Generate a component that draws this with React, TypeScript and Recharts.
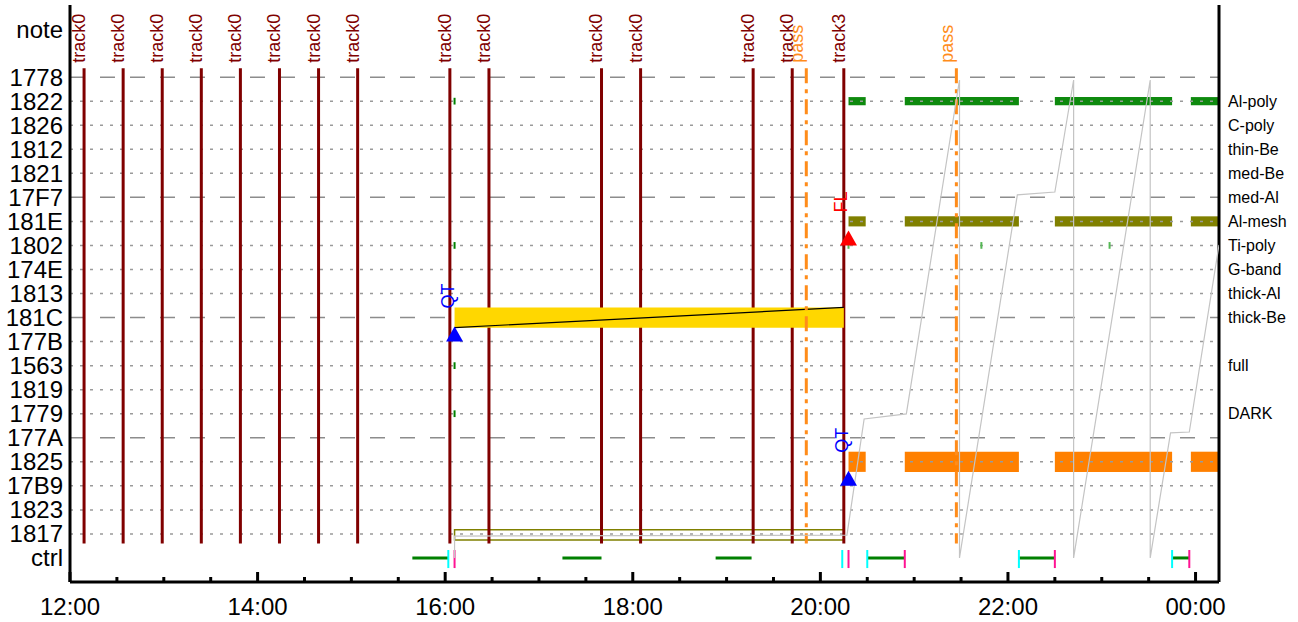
import React from 'react'
import { ComposedChart, XAxis, YAxis, ReferenceLine, ReferenceArea, Scatter } from 'recharts'

const FONT = '"Liberation Sans", Arial, Helvetica, sans-serif'

// left axis rows, top to bottom ('note' and 'ctrl' are extra rows)
const yTickRows = [-2, 0, 1, 2, 3, 4, 5, 6, 7, 8, 9, 10, 11, 12, 13, 14, 15, 16, 17, 18, 19, 20]
const yTickLabels = ['note', '1778', '1822', '1826', '1812', '1821', '17F7', '181E', '1802', '174E', '1813',
  '181C', '177B', '1563', '1819', '1779', '177A', '1825', '17B9', '1823', '1817', 'ctrl']

// right side names, by row
const filterRows = [1, 2, 3, 4, 5, 6, 7, 8, 9, 10, 12, 14]
const filterLabels = ['Al-poly', 'C-poly', 'thin-Be', 'med-Be', 'med-Al', 'Al-mesh', 'Ti-poly', 'G-band',
  'thick-Al', 'thick-Be', 'full', 'DARK']

const gridRows = [0, 1, 2, 3, 4, 5, 6, 7, 8, 9, 10, 11, 12, 13, 14, 15, 16, 17, 18, 19]
const dashedRows = [0, 5, 10, 15]

const xTicks = [12, 12.5, 13, 13.5, 14, 14.5, 15, 15.5, 16, 16.5, 17, 17.5, 18, 18.5, 19, 19.5, 20, 20.5,
  21, 21.5, 22, 22.5, 23, 23.5, 24]
const xLabels: Record<number, string> = { 12: '12:00', 14: '14:00', 16: '16:00', 18: '18:00', 20: '20:00', 22: '22:00', 24: '00:00' }

const hm = (s: string) => {
  const [h, m] = s.split(':').map(Number)
  return h + m / 60
}

const tracks = [
  { t: '12:09', name: 'track0' }, { t: '12:34', name: 'track0' }, { t: '12:59', name: 'track0' },
  { t: '13:24', name: 'track0' }, { t: '13:49', name: 'track0' }, { t: '14:14', name: 'track0' },
  { t: '14:39', name: 'track0' }, { t: '15:04', name: 'track0' }, { t: '16:03', name: 'track0' },
  { t: '16:28', name: 'track0' }, { t: '17:40', name: 'track0' }, { t: '18:05', name: 'track0' },
  { t: '19:17', name: 'track0' }, { t: '19:42', name: 'track0' }, { t: '20:15', name: 'track3' },
]
const passes = ['19:51', '21:27']

// exposure windows (shared by Al-poly, Al-mesh and 1825 rows)
const windows = [['20:18', '20:29'], ['20:54', '22:07'], ['22:30', '23:45'], ['23:57', '24:15']]

const yellowBar = { from: '16:06', to: '20:15', row: 10 }
const outlineBar = { from: '16:06', to: '20:15', row: 19 }

const ctrlSegments = [['15:39', '16:02'], ['17:15', '17:40'], ['18:53', '19:16'], ['20:30', '20:54'], ['22:07', '22:30'], ['23:45', '23:56']]
const cyanMarks = ['16:02', '20:14', '20:30', '22:07', '23:45']
const pinkMarks = ['16:06', '20:18', '20:54', '22:30', '23:56']

const smallTicks = [
  { t: '16:06', row: 1, light: false }, { t: '16:06', row: 7, light: false },
  { t: '16:06', row: 12, light: false }, { t: '16:06', row: 14, light: false },
  { t: '20:18', row: 7, light: true }, { t: '21:43', row: 7, light: true }, { t: '23:05', row: 7, light: true },
]

const sawtooth = [
  ['16:06', 20.0], ['16:06', 19.09], ['20:17', 19.05], ['20:28', 14.22], ['20:55', 14.01], ['21:29', 0.12],
  ['21:29', 20.0], ['22:06', 4.9], ['22:30', 4.78], ['22:42', 0.12], ['22:42', 20.0], ['23:31', 0.12],
  ['23:31', 20.0], ['23:44', 14.8], ['23:56', 14.76], ['24:15', 6.98],
] as const

const markers = [
  { t: '16:06', row: 11, color: '#0000ff', label: 'QT' },
  { t: '20:18', row: 7, color: '#ff0000', label: 'FL' },
  { t: '20:18', row: 17, color: '#0000ff', label: 'QT' },
]

const LINE_TOP = -0.37
const LINE_BOTTOM = 19.4

const trackLabelPts = tracks.map(d => ({ x: hm(d.t), y: -0.6, name: d.name }))
const passLabelPts = passes.map(t => ({ x: hm(t), y: -0.6, name: 'pass' }))
const markerPts = markers.map(m => ({ x: hm(m.t), y: m.row, color: m.color, label: m.label }))
const sawPts = sawtooth.map(([t, v]) => ({ x: hm(t), y: v }))

const BottomTick = (props: any) => {
  const { x, y, payload } = props
  const lab = xLabels[payload.value]
  return (
    <g>
      <line x1={x} x2={x} y1={y} y2={y - (lab ? 10 : 5)} stroke="#000" strokeWidth={3} />
      {lab && (
        <text x={x} y={y + 33} textAnchor="middle" fontSize={24} fill="#000" fontFamily={FONT}>{lab}</text>
      )}
    </g>
  )
}

const TopTick = (props: any) => {
  const { x, y, payload } = props
  const major = !!xLabels[payload.value]
  return <line x1={x} x2={x} y1={y} y2={y + (major ? 11 : 7)} stroke="#000" strokeWidth={3} />
}

const rotText = (x: number, y: number, txt: string, color: string) => (
  <text x={x} y={y} transform={`rotate(-90 ${x} ${y})`} fill={color} fontSize={18} fontFamily={FONT}>{txt}</text>
)

export default function App() {
  return (
    <div style={{ position: 'absolute', left: 0, top: 0, width: 1298, height: 622, background: '#fff', fontFamily: FONT }}>
      <ComposedChart width={1298} height={622} margin={{ top: 5, right: 0, bottom: 0, left: 0 }}>
        <XAxis type="number" dataKey="x" domain={[12, 24.25]} allowDataOverflow ticks={xTicks} interval={0}
          tick={<BottomTick />} tickSize={0} tickMargin={0} tickLine={false} height={40}
          axisLine={{ stroke: '#000', strokeWidth: 3 }} />
        <XAxis xAxisId="top" orientation="top" type="number" dataKey="x" domain={[12, 24.25]} allowDataOverflow
          ticks={xTicks} interval={0} tick={<TopTick />} tickSize={0} tickMargin={0} tickLine={false} height={0}
          axisLine={{ stroke: '#000', strokeWidth: 3 }} />
        <YAxis type="number" dataKey="y" domain={[-3, 21]} reversed allowDataOverflow ticks={yTickRows} interval={0}
          tickFormatter={(v: number) => yTickLabels[yTickRows.indexOf(v)]} width={70} tickSize={0} tickMargin={7}
          tickLine={false} tick={{ fontSize: 24, fill: '#000' }} axisLine={{ stroke: '#000', strokeWidth: 3 }} />
        <YAxis yAxisId="right" orientation="right" type="number" dataKey="y" domain={[-3, 21]} reversed allowDataOverflow
          ticks={filterRows} interval={0} tickFormatter={(v: number) => filterLabels[filterRows.indexOf(v)]}
          width={79} tickSize={0} tickMargin={9} tickLine={false} tick={{ fontSize: 16, fill: '#000', textAnchor: 'start' }}
          axisLine={{ stroke: '#000', strokeWidth: 3 }} />

        {gridRows.map(r => (
          <ReferenceLine key={'g' + r} y={r} stroke={dashedRows.includes(r) ? '#8c8c8c' : '#9a9a9a'} strokeWidth={1.5}
            strokeDasharray={dashedRows.includes(r) ? '15 15' : '3 7'} />
        ))}

        {tracks.map((d, i) => (
          <ReferenceLine key={'t' + i} segment={[{ x: hm(d.t), y: LINE_TOP }, { x: hm(d.t), y: LINE_BOTTOM }]}
            stroke="#800000" strokeWidth={3} />
        ))}

        <ReferenceArea x1={hm(yellowBar.from)} x2={hm(yellowBar.to)} y1={yellowBar.row - 0.42} y2={yellowBar.row + 0.42}
          fill="#ffd700" fillOpacity={1} stroke="none" {...({ zIndex: 450 } as any)} />
        <ReferenceLine segment={[{ x: hm(yellowBar.from), y: yellowBar.row + 0.42 }, { x: hm(yellowBar.to), y: yellowBar.row - 0.42 }]}
          stroke="#000" strokeWidth={1.2} {...({ zIndex: 460 } as any)} />
        <ReferenceArea x1={hm(outlineBar.from)} x2={hm(outlineBar.to)} y1={outlineBar.row - 0.17} y2={outlineBar.row + 0.25}
          fill="none" fillOpacity={0} stroke="#808000" strokeWidth={1.5} />

        {windows.map(([a, b], i) => (
          <ReferenceArea key={'ap' + i} x1={hm(a)} x2={hm(b)} y1={0.83} y2={1.17} fill="#0e8a0e" fillOpacity={1} stroke="none" />
        ))}
        {windows.map(([a, b], i) => (
          <ReferenceArea key={'am' + i} x1={hm(a)} x2={hm(b)} y1={5.79} y2={6.21} fill="#808000" fillOpacity={1} stroke="none" />
        ))}
        {windows.map(([a, b], i) => (
          <ReferenceArea key={'or' + i} x1={hm(a)} x2={hm(b)} y1={15.58} y2={16.42} fill="#ff8000" fillOpacity={1} stroke="none" />
        ))}

        {smallTicks.map((d, i) => (
          <ReferenceLine key={'s' + i} segment={[{ x: hm(d.t), y: d.row - 0.14 }, { x: hm(d.t), y: d.row + 0.14 }]}
            stroke={d.light ? '#55b855' : '#008000'} strokeWidth={2} />
        ))}

        {ctrlSegments.map(([a, b], i) => (
          <ReferenceLine key={'c' + i} segment={[{ x: hm(a), y: 20 }, { x: hm(b), y: 20 }]} stroke="#008000" strokeWidth={3} />
        ))}
        {cyanMarks.map((t, i) => (
          <ReferenceLine key={'cy' + i} segment={[{ x: hm(t), y: 19.67 }, { x: hm(t), y: 20.42 }]} stroke="#00ffff" strokeWidth={2} />
        ))}
        {pinkMarks.map((t, i) => (
          <ReferenceLine key={'pk' + i} segment={[{ x: hm(t), y: 19.67 }, { x: hm(t), y: 20.42 }]} stroke="#ff1493" strokeWidth={2} />
        ))}

        <Scatter data={sawPts} isAnimationActive={false} line={{ stroke: '#c4c4c4', strokeWidth: 1.2 }}
          shape={() => <g />} />

        {passes.map((t, i) => (
          <ReferenceLine key={'p' + i} segment={[{ x: hm(t), y: LINE_TOP }, { x: hm(t), y: LINE_BOTTOM }]}
            stroke="#ff8c1a" strokeWidth={3} strokeDasharray="15 6 4 6" {...({ zIndex: 470 } as any)} />
        ))}

        <Scatter data={trackLabelPts} isAnimationActive={false}
          shape={(p: any) => rotText(p.cx + 1, p.cy, p.payload.name, '#800000')} />
        <Scatter data={passLabelPts} isAnimationActive={false}
          shape={(p: any) => rotText(p.cx - 3, p.cy, p.payload.name, '#ff8c1a')} />
        <Scatter data={markerPts} isAnimationActive={false}
          shape={(p: any) => (
            <g>
              <path d={`M${p.cx},${p.cy - 15} L${p.cx + 8.5},${p.cy} L${p.cx - 8.5},${p.cy} Z`} fill={p.payload.color} />
              {rotText(p.cx - 1, p.cy - 33, p.payload.label, p.payload.color)}
            </g>
          )} />
      </ComposedChart>
    </div>
  )
}
